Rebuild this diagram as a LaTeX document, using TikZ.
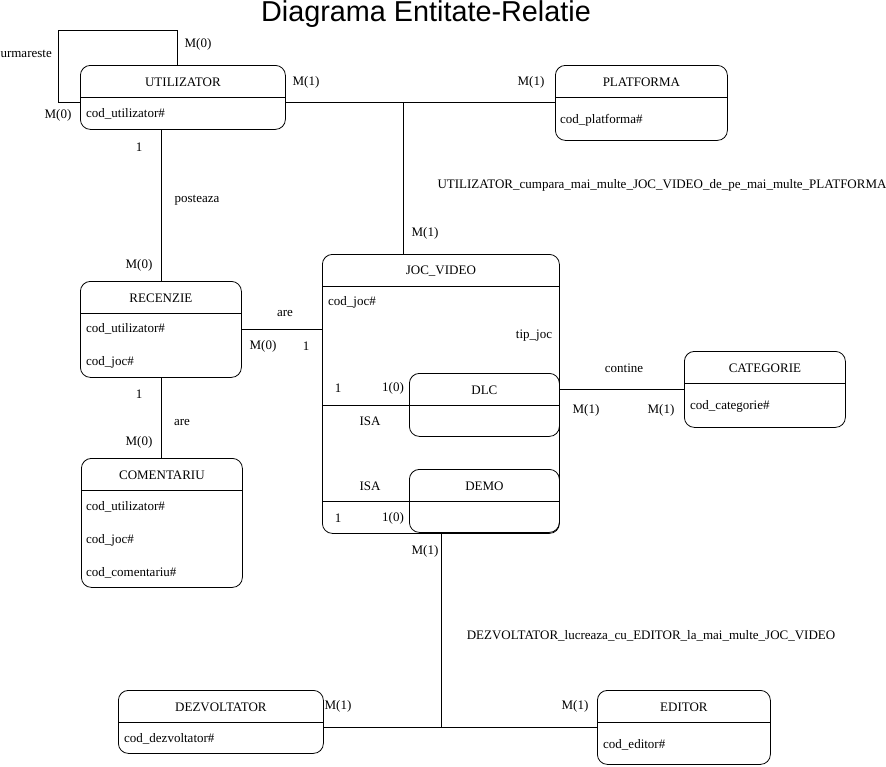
\documentclass[tikz,border=0pt]{standalone}
\usepackage{fontspec}
\setmainfont{Liberation Serif}
\newfontfamily\titlufont{Liberation Sans}
\usetikzlibrary{positioning}

\tikzset{
	entitate/.style={draw, rounded corners=10pt, line width=0.8pt, anchor=north west, inner sep=0pt},
	antet/.style={inner sep=1pt},
	atribut/.style={anchor=west, inner sep=0pt},
	eticheta/.style={inner sep=1pt},
	legatura/.style={line width=0.8pt}
}

\newcommand{\entitate}[6]{%
	\node[entitate, minimum width=#4pt, minimum height=#5pt] (#1) at (#2,#3) {};
	\draw[legatura] ([yshift=-32pt]#1.north west) -- ([yshift=-32pt]#1.north east);
	\node[antet] (#1-titlu) at ([yshift=-17pt]#1.north) {#6};
}

\begin{document}
\begin{tikzpicture}[x=1pt, y=-1pt, font=\fontsize{13}{15}\selectfont]
		\useasboundingbox (0,0) rectangle (886,766);
		\node[font=\titlufont\fontsize{28.8}{33}\selectfont, inner sep=0pt] (titlu) at (426,14) {Diagrama Entitate-Relatie};

		\entitate{utilizator}{80}{65}{205}{64}{UTILIZATOR}
		\entitate{platforma}{555}{65}{172}{75}{PLATFORMA}
		\entitate{jocvideo}{322}{254}{237}{279}{JOC\_VIDEO}
		\entitate{dlc}{409}{373}{150}{63}{DLC}
		\entitate{demo}{409}{469}{150}{63}{DEMO}
		\entitate{recenzie}{80}{281}{161}{96}{RECENZIE}
		\entitate{comentariu}{81}{458}{161}{129}{COMENTARIU}
		\entitate{categorie}{684}{351}{161}{76}{CATEGORIE}
		\entitate{dezvoltator}{118}{690}{205}{63}{DEZVOLTATOR}
		\entitate{editor}{597}{690}{173}{74}{EDITOR}

		\node[atribut] (u-cod) at (86,114) {cod\_utilizator\#};
		\node[atribut] (p-cod) at (560,120) {cod\_platforma\#};
		\node[atribut] (j-cod) at (328,302) {cod\_joc\#};
		\node[eticheta] (j-tip) at (534,336) {tip\_joc};
		\node[atribut] (r-cod1) at (86,329) {cod\_utilizator\#};
		\node[atribut] (r-cod2) at (86,362) {cod\_joc\#};
		\node[atribut] (c-cod1) at (86,507) {cod\_utilizator\#};
		\node[atribut] (c-cod2) at (86,540) {cod\_joc\#};
		\node[atribut] (c-cod3) at (86,573) {cod\_comentariu\#};
		\node[atribut] (cat-cod) at (690,406) {cod\_categorie\#};
		\node[atribut] (d-cod) at (124,739) {cod\_dezvoltator\#};
		\node[atribut] (e-cod) at (603,745) {cod\_editor\#};

		\coordinate (nod1) at (403,102);
		\coordinate (nod2) at (441,727);
		\draw[legatura] (utilizator.west |- nod1) -- ++(-22,0) |- (177,30) -- (utilizator.north -| 177,0);
		\draw[legatura] (utilizator.east |- nod1) -- (platforma.west |- nod1);
		\draw[legatura] (nod1) -- (nod1 |- jocvideo.north);
		\draw[legatura] (recenzie.north |- utilizator.south) -- (recenzie.north);
		\draw[legatura] (recenzie.east) -- (jocvideo.west |- recenzie.east);
		\draw[legatura] (recenzie.south) -- (recenzie.south |- comentariu.north);
		\draw[legatura] (jocvideo.west |- dlc.west) -- (dlc.west);
		\draw[legatura] (jocvideo.west |- demo.west) -- (demo.west);
		\draw[legatura] (dlc.east |- categorie.west) -- (categorie.west);
		\draw[legatura] (nod2 |- demo.south) -- (nod2);
		\draw[legatura] (dezvoltator.east |- nod2) -- (editor.west |- nod2);

		\node[eticheta, anchor=east] (e1) at (53,54) {urmareste};
		\node[eticheta] (e2) at (198,44) {M(0)};
		\node[eticheta] (e3) at (58,115) {M(0)};
		\node[eticheta] (e4) at (306,82) {M(1)};
		\node[eticheta] (e5) at (531,82) {M(1)};
		\node[eticheta] (e6) at (425,233) {M(1)};
		\node[eticheta] (e7) at (662,185) {UTILIZATOR\_cumpara\_mai\_multe\_JOC\_VIDEO\_de\_pe\_mai\_multe\_PLATFORMA};
		\node[eticheta] (e8) at (139,147) {1};
		\node[eticheta] (e9) at (197,200) {posteaza};
		\node[eticheta] (e10) at (139,265) {M(0)};
		\node[eticheta] (e11) at (285,313) {are};
		\node[eticheta] (e12) at (263,346) {M(0)};
		\node[eticheta] (e13) at (306,346) {1};
		\node[eticheta] (e14) at (139,394) {1};
		\node[eticheta] (e15) at (182,422) {are};
		\node[eticheta] (e16) at (139,442) {M(0)};
		\node[eticheta] (e17) at (338,388) {1};
		\node[eticheta] (e18) at (393,388) {1(0)};
		\node[eticheta] (e19) at (370,421) {ISA};
		\node[eticheta] (e20) at (370,486) {ISA};
		\node[eticheta] (e21) at (338,518) {1};
		\node[eticheta] (e22) at (393,518) {1(0)};
		\node[eticheta] (e23) at (624,368) {contine};
		\node[eticheta] (e24) at (586,410) {M(1)};
		\node[eticheta] (e25) at (661,410) {M(1)};
		\node[eticheta] (e26) at (425,551) {M(1)};
		\node[eticheta] (e27) at (651,636) {DEZVOLTATOR\_lucreaza\_cu\_EDITOR\_la\_mai\_multe\_JOC\_VIDEO};
		\node[eticheta] (e28) at (338,706) {M(1)};
		\node[eticheta] (e29) at (575,706) {M(1)};
\end{tikzpicture}
\end{document}
